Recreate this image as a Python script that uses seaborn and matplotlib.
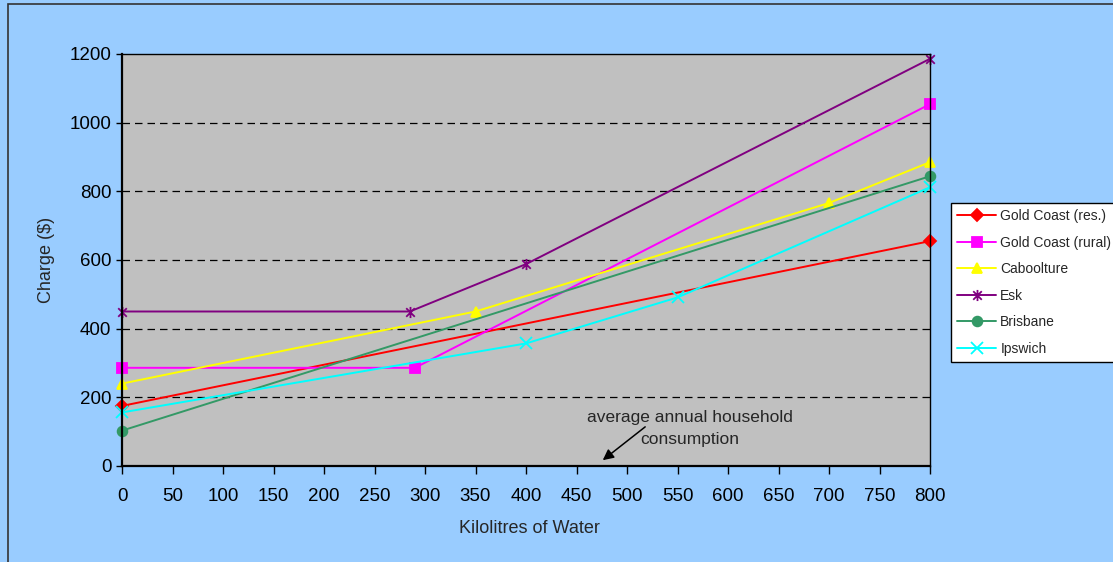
import pandas as pd
import matplotlib.pyplot as plt
import matplotlib.patches as mpatches
from matplotlib.path import Path
import seaborn as sns

# series data
series_names = ['Gold Coast (res.)', 'Gold Coast (rural)', 'Caboolture', 'Esk', 'Brisbane', 'Ipswich']

gc_res_x = [0, 800]
gc_res_y = [175, 655]
gc_rural_x = [0, 290, 800]
gc_rural_y = [286, 286, 1054]
caboolture_x = [0, 350, 700, 800]
caboolture_y = [240, 450, 766, 885]
esk_x = [0, 285, 400, 800]
esk_y = [450, 450, 588, 1186]
brisbane_x = [0, 800]
brisbane_y = [103, 844]
ipswich_x = [0, 400, 550, 800]
ipswich_y = [156, 357, 491, 812]

# Excel-style star: an x with a vertical bar through it
star = Path([(-1, -1), (1, 1), (-1, 1), (1, -1), (0, -1.3), (0, 1.3)],
            [Path.MOVETO, Path.LINETO] * 3)

colors = ['#FF0000', '#FF00FF', '#FFFF00', '#800080', '#339966', '#00FFFF']
markers = ['D', 's', '^', star, 'o', 'x']
sizes = [6, 7, 7.5, 8, 7, 8]

xs = [gc_res_x, gc_rural_x, caboolture_x, esk_x, brisbane_x, ipswich_x]
ys = [gc_res_y, gc_rural_y, caboolture_y, esk_y, brisbane_y, ipswich_y]

sns.set_style('white')
plt.rcParams['font.family'] = ['Liberation Sans', 'DejaVu Sans']

fig = plt.figure(figsize=(11.13, 5.62), dpi=100, facecolor='#99CCFF')
ax = fig.add_axes([122 / 1113, 96 / 562, 808 / 1113, 412 / 562])
ax.set_facecolor('#C0C0C0')

for name, x, y, c, m, ms in zip(series_names, xs, ys, colors, markers, sizes):
    d = pd.DataFrame({'kl': x, 'charge': y})
    sns.lineplot(data=d, x='kl', y='charge', color=c, marker=m, markersize=ms,
                 markeredgewidth=1.3, markeredgecolor=c, linewidth=1.4,
                 sort=False, label=name, ax=ax, clip_on=False)

ax.set_xlim(0, 800)
ax.set_ylim(0, 1200)
ax.set_xticks(range(0, 801, 50))
ax.set_yticks(range(0, 1201, 200))
ax.tick_params(axis='both', labelsize=13.5, direction='out', width=1,
               color='black', labelcolor='black', bottom=True, left=True)
ax.tick_params(axis='x', length=6, pad=9.5)
ax.tick_params(axis='y', length=4, pad=3.6)
for y in range(200, 1001, 200):
    ax.axhline(y, color='black', linestyle=(0, (6, 4)), linewidth=0.9, zorder=0.5)
for s in ax.spines.values():
    s.set_visible(True)
    s.set_color('black')
    s.set_linewidth(1)
ax.spines['left'].set_linewidth(1.6)
ax.spines['bottom'].set_linewidth(1.6)

ax.set_xlabel('Kilolitres of Water', fontsize=13)
ax.set_ylabel('Charge ($)', fontsize=13)
ax.xaxis.set_label_coords(407 / 808, -54 / 412)
ax.yaxis.set_label_coords(-67 / 808, 0.5)

ax.text(562, 110, 'average annual household\nconsumption', ha='center', va='center',
        fontsize=12.5, linespacing=1.6)
ax.annotate('', xy=(476, 17), xytext=(518, 114),
            arrowprops=dict(arrowstyle='-|>', color='black', lw=1.1, mutation_scale=16,
                            shrinkA=0, shrinkB=0))

handles, labels = ax.get_legend_handles_labels()
ax.get_legend().remove()
leg = fig.legend(handles, labels, loc='upper left',
                 bbox_to_anchor=(951 / 1113, 1 - 203 / 562),
                 bbox_transform=fig.transFigure, fontsize=10,
                 frameon=True, fancybox=False, edgecolor='black',
                 facecolor='white', framealpha=1, borderpad=0.45,
                 labelspacing=0.9, handlelength=2.8, handletextpad=0.3,
                 borderaxespad=0)
leg.get_frame().set_linewidth(1)

# outer chart-area border (cut by the image edge on right and bottom)
fig.patches.append(mpatches.Rectangle((8 / 1113, -0.1), 1.2, 1.1 - 4 / 562,
                                      transform=fig.transFigure, fill=False,
                                      edgecolor='#333333', linewidth=1.2))

fig.savefig('out.png', dpi=100, facecolor=fig.get_facecolor())
